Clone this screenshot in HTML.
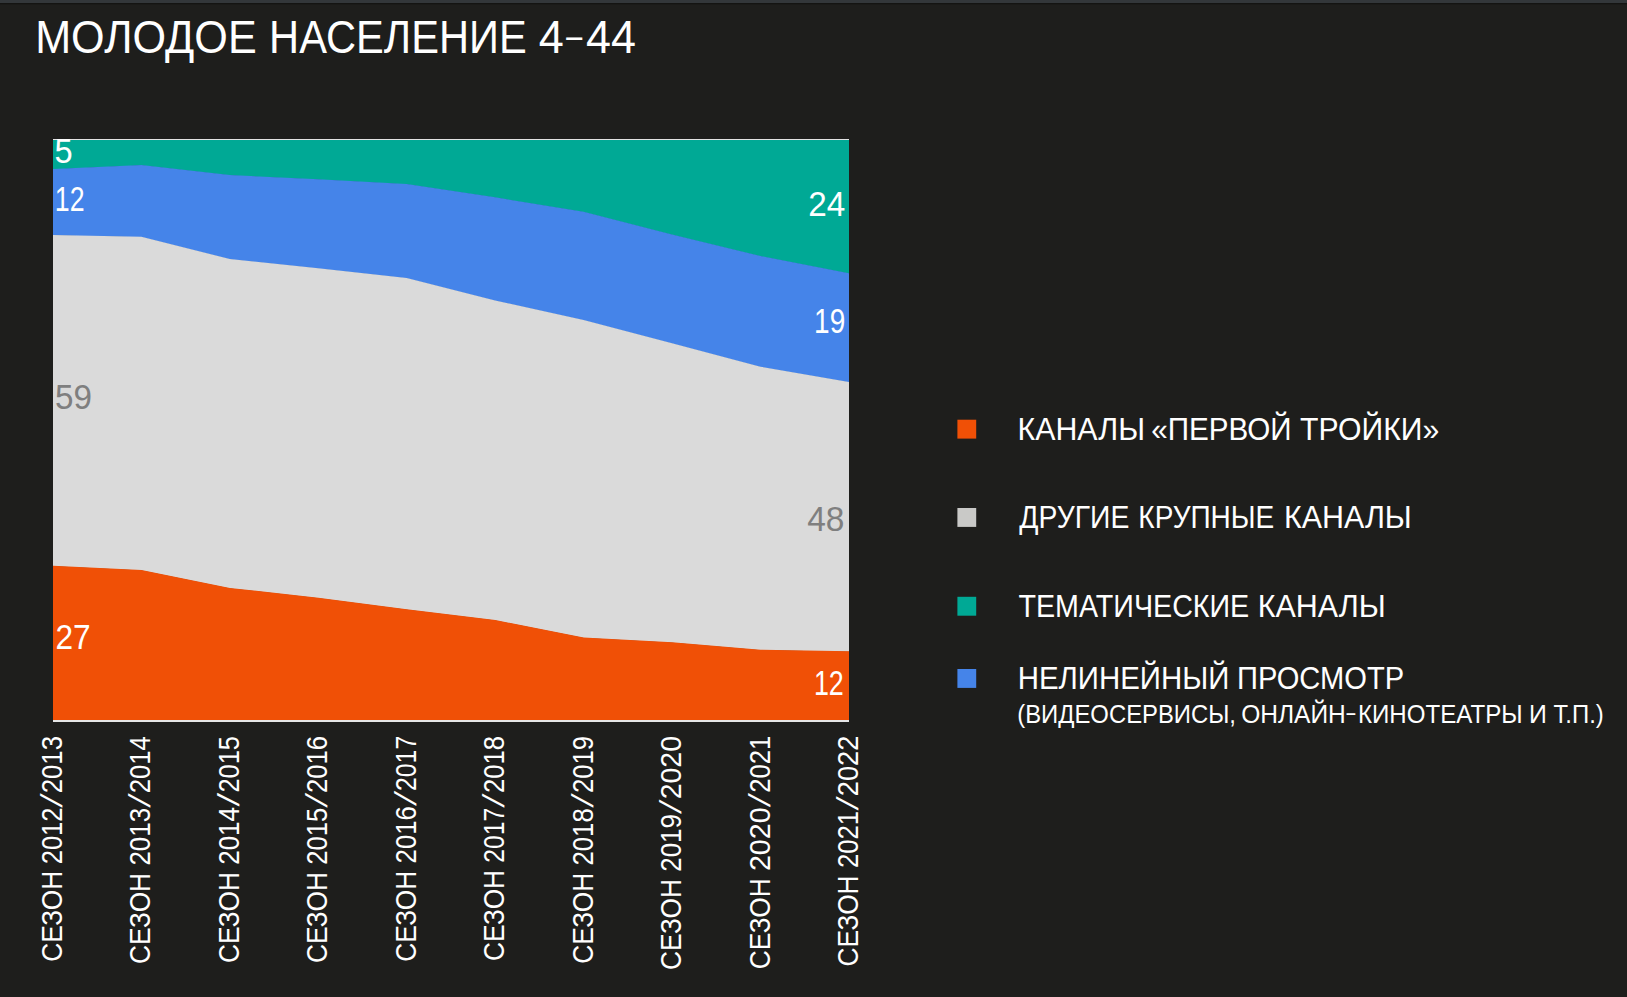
<!DOCTYPE html>
<html lang="ru"><head><meta charset="utf-8"><title>Молодое население 4-44</title>
<style>html,body{margin:0;padding:0;background:#1e1e1c;overflow:hidden}svg{display:block}text{font-family:"Liberation Sans",sans-serif;}</style></head><body>
<svg width="1627" height="997" viewBox="0 0 1627 997">
<rect width="1627" height="997" fill="#1e1e1c"/>
<rect width="1627" height="3" fill="#33373a"/><rect y="3" width="1627" height="1" fill="#141412"/><rect y="4" width="1627" height="1" fill="#1a1a18"/>
<g><text x="35.15" y="53.10" font-size="46.95" textLength="221.54" lengthAdjust="spacingAndGlyphs" fill="#fff">МОЛОДОЕ</text><text x="269.07" y="53.10" font-size="46.95" textLength="257.61" lengthAdjust="spacingAndGlyphs" fill="#fff">НАСЕЛЕНИЕ</text><text x="538.70" y="53.10" font-size="46.95" textLength="25.00" lengthAdjust="spacingAndGlyphs" fill="#fff">4</text><text x="563.24" y="48.20" font-size="32.39" textLength="21.89" lengthAdjust="spacingAndGlyphs" fill="#fff">-</text><text x="586.00" y="53.10" font-size="46.95" textLength="49.85" lengthAdjust="spacingAndGlyphs" fill="#fff">44</text></g>
<polygon fill="#00a995" points="53.00,140.00 141.44,140.00 229.89,140.00 318.33,140.00 406.78,140.00 495.22,140.00 583.67,140.00 672.11,140.00 760.56,140.00 849.00,140.00 849.00,273.80 760.56,256.50 672.11,234.90 583.67,212.30 495.22,197.80 406.78,184.40 318.33,179.80 229.89,175.60 141.44,165.40 53.00,169.40"/>
<polygon fill="#4584e9" points="53.00,168.90 141.44,164.90 229.89,175.10 318.33,179.30 406.78,183.90 495.22,197.30 583.67,211.80 672.11,234.40 760.56,256.00 849.00,273.30 849.00,382.40 760.56,367.20 672.11,343.80 583.67,320.50 495.22,301.00 406.78,278.50 318.33,268.70 229.89,259.50 141.44,237.30 53.00,235.40"/>
<polygon fill="#dadada" points="53.00,234.90 141.44,236.80 229.89,259.00 318.33,268.20 406.78,278.00 495.22,300.50 583.67,320.00 672.11,343.30 760.56,366.70 849.00,381.90 849.00,651.80 760.56,650.30 672.11,642.80 583.67,637.90 495.22,620.60 406.78,609.70 318.33,598.30 229.89,588.40 141.44,570.50 53.00,566.30"/>
<polygon fill="#f05006" points="53.00,565.80 141.44,570.00 229.89,587.90 318.33,597.80 406.78,609.20 495.22,620.10 583.67,637.40 672.11,642.30 760.56,649.80 849.00,651.30 849.00,720.00 760.56,720.00 672.11,720.00 583.67,720.00 495.22,720.00 406.78,720.00 318.33,720.00 229.89,720.00 141.44,720.00 53.00,720.00"/>
<rect x="53.00" y="139" width="796.00" height="1" fill="#e3e3e3"/>
<rect x="53.00" y="720" width="796.00" height="2" fill="#e6e6e6"/>
<text x="54.49" y="163.25" font-size="34.57" textLength="18.15" lengthAdjust="spacingAndGlyphs" fill="#fff">5</text>
<text x="54.80" y="211.00" font-size="34.43" textLength="29.70" lengthAdjust="spacingAndGlyphs" fill="#fff">12</text>
<text x="55.07" y="409.05" font-size="35.21" textLength="37.01" lengthAdjust="spacingAndGlyphs" fill="#7f7f7f">59</text>
<text x="55.42" y="649.10" font-size="35.29" textLength="35.24" lengthAdjust="spacingAndGlyphs" fill="#fff">27</text>
<text x="808.23" y="216.10" font-size="35.29" textLength="37.04" lengthAdjust="spacingAndGlyphs" fill="#fff">24</text>
<text x="814.10" y="333.05" font-size="35.07" textLength="31.12" lengthAdjust="spacingAndGlyphs" fill="#fff">19</text>
<text x="807.13" y="531.15" font-size="35.49" textLength="37.29" lengthAdjust="spacingAndGlyphs" fill="#7f7f7f">48</text>
<text x="813.88" y="695.00" font-size="34.57" textLength="29.93" lengthAdjust="spacingAndGlyphs" fill="#fff">12</text>
<g><text transform="translate(62.00 961.72) rotate(-90)" x="0" y="0" font-size="30.23" textLength="91.02" lengthAdjust="spacingAndGlyphs" fill="#fff">СЕЗОН</text><text transform="translate(62.00 864.27) rotate(-90)" x="0" y="0" font-size="30.23" textLength="56.64" lengthAdjust="spacingAndGlyphs" fill="#fff">2012</text><text transform="translate(62.00 807.80) rotate(-90) matrix(1.100 0 -0.246 1 0 0)" font-size="30.23" fill="#fff">/</text><text transform="translate(62.00 793.29) rotate(-90)" x="0" y="0" font-size="30.23" textLength="57.31" lengthAdjust="spacingAndGlyphs" fill="#fff">2013</text></g>
<g><text transform="translate(150.44 963.92) rotate(-90)" x="0" y="0" font-size="30.23" textLength="91.02" lengthAdjust="spacingAndGlyphs" fill="#fff">СЕЗОН</text><text transform="translate(150.44 865.60) rotate(-90)" x="0" y="0" font-size="30.23" textLength="57.73" lengthAdjust="spacingAndGlyphs" fill="#fff">2013</text><text transform="translate(150.44 807.80) rotate(-90) matrix(1.100 0 -0.246 1 0 0)" font-size="30.23" fill="#fff">/</text><text transform="translate(150.44 793.28) rotate(-90)" x="0" y="0" font-size="30.23" textLength="57.04" lengthAdjust="spacingAndGlyphs" fill="#fff">2014</text></g>
<g><text transform="translate(238.88 963.12) rotate(-90)" x="0" y="0" font-size="30.23" textLength="91.02" lengthAdjust="spacingAndGlyphs" fill="#fff">СЕЗОН</text><text transform="translate(238.88 864.80) rotate(-90)" x="0" y="0" font-size="30.23" textLength="57.77" lengthAdjust="spacingAndGlyphs" fill="#fff">2014</text><text transform="translate(238.88 806.40) rotate(-90) matrix(1.100 0 -0.201 1 0 0)" font-size="30.23" fill="#fff">/</text><text transform="translate(238.88 792.57) rotate(-90)" x="0" y="0" font-size="30.23" textLength="56.58" lengthAdjust="spacingAndGlyphs" fill="#fff">2015</text></g>
<g><text transform="translate(327.32 963.12) rotate(-90)" x="0" y="0" font-size="30.23" textLength="91.02" lengthAdjust="spacingAndGlyphs" fill="#fff">СЕЗОН</text><text transform="translate(327.32 864.78) rotate(-90)" x="0" y="0" font-size="30.23" textLength="56.89" lengthAdjust="spacingAndGlyphs" fill="#fff">2015</text><text transform="translate(327.32 807.80) rotate(-90) matrix(1.100 0 -0.264 1 0 0)" font-size="30.23" fill="#fff">/</text><text transform="translate(327.32 792.98) rotate(-90)" x="0" y="0" font-size="30.23" textLength="57.00" lengthAdjust="spacingAndGlyphs" fill="#fff">2016</text></g>
<g><text transform="translate(415.76 961.72) rotate(-90)" x="0" y="0" font-size="30.23" textLength="91.02" lengthAdjust="spacingAndGlyphs" fill="#fff">СЕЗОН</text><text transform="translate(415.76 863.39) rotate(-90)" x="0" y="0" font-size="30.23" textLength="57.21" lengthAdjust="spacingAndGlyphs" fill="#fff">2016</text><text transform="translate(415.76 806.10) rotate(-90) matrix(1.100 0 -0.273 1 0 0)" font-size="30.23" fill="#fff">/</text><text transform="translate(415.76 791.04) rotate(-90)" x="0" y="0" font-size="30.23" textLength="55.28" lengthAdjust="spacingAndGlyphs" fill="#fff">2017</text></g>
<g><text transform="translate(504.20 960.92) rotate(-90)" x="0" y="0" font-size="30.23" textLength="91.02" lengthAdjust="spacingAndGlyphs" fill="#fff">СЕЗОН</text><text transform="translate(504.20 862.84) rotate(-90)" x="0" y="0" font-size="30.23" textLength="55.07" lengthAdjust="spacingAndGlyphs" fill="#fff">2017</text><text transform="translate(504.20 807.80) rotate(-90) matrix(1.100 0 -0.233 1 0 0)" font-size="30.23" fill="#fff">/</text><text transform="translate(504.20 792.98) rotate(-90)" x="0" y="0" font-size="30.23" textLength="57.00" lengthAdjust="spacingAndGlyphs" fill="#fff">2018</text></g>
<g><text transform="translate(592.64 963.72) rotate(-90)" x="0" y="0" font-size="30.23" textLength="91.02" lengthAdjust="spacingAndGlyphs" fill="#fff">СЕЗОН</text><text transform="translate(592.64 865.59) rotate(-90)" x="0" y="0" font-size="30.23" textLength="57.41" lengthAdjust="spacingAndGlyphs" fill="#fff">2018</text><text transform="translate(592.64 807.80) rotate(-90) matrix(1.100 0 -0.246 1 0 0)" font-size="30.23" fill="#fff">/</text><text transform="translate(592.64 792.98) rotate(-90)" x="0" y="0" font-size="30.23" textLength="57.13" lengthAdjust="spacingAndGlyphs" fill="#fff">2019</text></g>
<g><text transform="translate(681.08 970.02) rotate(-90)" x="0" y="0" font-size="30.23" textLength="91.02" lengthAdjust="spacingAndGlyphs" fill="#fff">СЕЗОН</text><text transform="translate(681.08 871.69) rotate(-90)" x="0" y="0" font-size="30.23" textLength="57.55" lengthAdjust="spacingAndGlyphs" fill="#fff">2019</text><text transform="translate(681.08 813.90) rotate(-90) matrix(1.100 0 -0.242 1 0 0)" font-size="30.23" fill="#fff">/</text><text transform="translate(681.08 799.32) rotate(-90)" x="0" y="0" font-size="30.23" textLength="63.31" lengthAdjust="spacingAndGlyphs" fill="#fff">2020</text></g>
<g><text transform="translate(769.52 969.22) rotate(-90)" x="0" y="0" font-size="30.23" textLength="91.02" lengthAdjust="spacingAndGlyphs" fill="#fff">СЕЗОН</text><text transform="translate(769.52 871.03) rotate(-90)" x="0" y="0" font-size="30.23" textLength="63.62" lengthAdjust="spacingAndGlyphs" fill="#fff">2020</text><text transform="translate(769.52 807.20) rotate(-90) matrix(1.100 0 -0.228 1 0 0)" font-size="30.23" fill="#fff">/</text><text transform="translate(769.52 792.78) rotate(-90)" x="0" y="0" font-size="30.23" textLength="56.92" lengthAdjust="spacingAndGlyphs" fill="#fff">2021</text></g>
<g><text transform="translate(857.96 966.42) rotate(-90)" x="0" y="0" font-size="30.23" textLength="91.02" lengthAdjust="spacingAndGlyphs" fill="#fff">СЕЗОН</text><text transform="translate(857.96 868.09) rotate(-90)" x="0" y="0" font-size="30.23" textLength="57.24" lengthAdjust="spacingAndGlyphs" fill="#fff">2021</text><text transform="translate(857.96 810.60) rotate(-90) matrix(1.100 0 -0.233 1 0 0)" font-size="30.23" fill="#fff">/</text><text transform="translate(857.96 796.16) rotate(-90)" x="0" y="0" font-size="30.23" textLength="60.51" lengthAdjust="spacingAndGlyphs" fill="#fff">2022</text></g>
<rect x="957.4" y="419.7" width="18.8" height="18.9" fill="#f05006"/>
<rect x="957.4" y="508.0" width="18.8" height="18.9" fill="#c9c9c7"/>
<rect x="957.4" y="596.8" width="18.8" height="18.9" fill="#00a995"/>
<rect x="957.4" y="669.0" width="18.8" height="18.9" fill="#4584e9"/>
<g><text x="1017.57" y="439.50" font-size="31.10" textLength="127.42" lengthAdjust="spacingAndGlyphs" fill="#fff">КАНАЛЫ</text><text x="1151.32" y="439.50" font-size="31.10" textLength="140.28" lengthAdjust="spacingAndGlyphs" fill="#fff">«ПЕРВОЙ</text><text x="1300.10" y="439.50" font-size="31.10" textLength="139.21" lengthAdjust="spacingAndGlyphs" fill="#fff">ТРОЙКИ»</text></g>
<g><text x="1019.26" y="527.70" font-size="31.10" textLength="110.07" lengthAdjust="spacingAndGlyphs" fill="#fff">ДРУГИЕ</text><text x="1138.36" y="527.70" font-size="31.10" textLength="135.89" lengthAdjust="spacingAndGlyphs" fill="#fff">КРУПНЫЕ</text><text x="1283.97" y="527.70" font-size="31.10" textLength="127.83" lengthAdjust="spacingAndGlyphs" fill="#fff">КАНАЛЫ</text></g>
<g><text x="1018.43" y="616.90" font-size="31.10" textLength="230.82" lengthAdjust="spacingAndGlyphs" fill="#fff">ТЕМАТИЧЕСКИЕ</text><text x="1257.66" y="616.90" font-size="31.10" textLength="128.15" lengthAdjust="spacingAndGlyphs" fill="#fff">КАНАЛЫ</text></g>
<g><text x="1017.75" y="688.80" font-size="31.10" textLength="211.60" lengthAdjust="spacingAndGlyphs" fill="#fff">НЕЛИНЕЙНЫЙ</text><text x="1236.97" y="688.80" font-size="31.10" textLength="167.12" lengthAdjust="spacingAndGlyphs" fill="#fff">ПРОСМОТР</text></g>
<g><text x="1017.27" y="722.90" font-size="25.44" textLength="218.74" lengthAdjust="spacingAndGlyphs" fill="#fff">(ВИДЕОСЕРВИСЫ,</text><text x="1241.20" y="722.90" font-size="25.44" textLength="104.67" lengthAdjust="spacingAndGlyphs" fill="#fff">ОНЛАЙН</text><text x="1345.00" y="719.90" font-size="21.62" textLength="11.83" lengthAdjust="spacingAndGlyphs" fill="#fff">-</text><text x="1357.97" y="722.90" font-size="25.44" textLength="164.58" lengthAdjust="spacingAndGlyphs" fill="#fff">КИНОТЕАТРЫ</text><text x="1529.01" y="722.90" font-size="25.44" textLength="17.87" lengthAdjust="spacingAndGlyphs" fill="#fff">И</text><text x="1553.42" y="722.90" font-size="25.44" textLength="50.37" lengthAdjust="spacingAndGlyphs" fill="#fff">Т.П.)</text></g>
</svg></body></html>
